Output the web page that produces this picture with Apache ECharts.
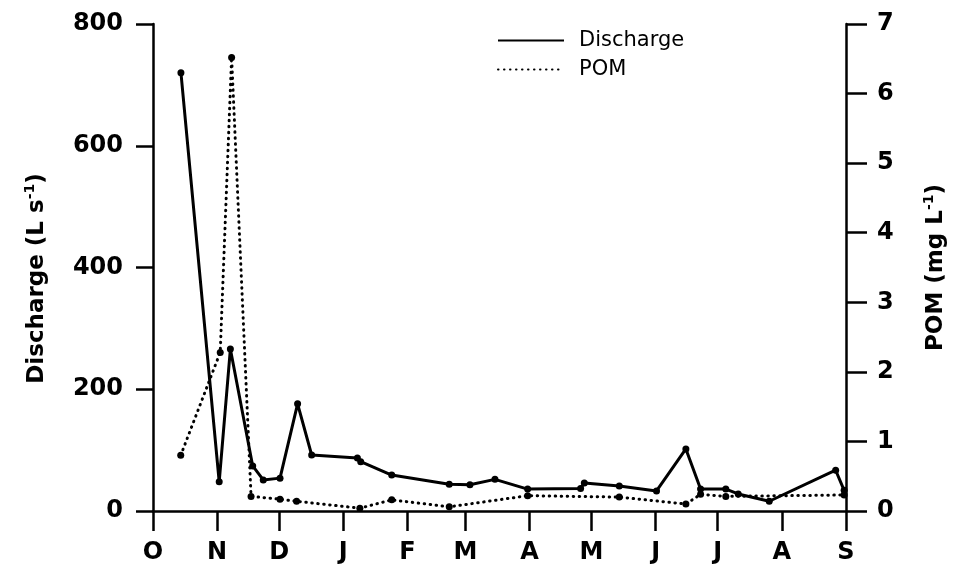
<!DOCTYPE html>
<html>
<head>
<meta charset="utf-8">
<script src="https://cdn.jsdelivr.net/npm/echarts@6/dist/echarts.min.js"></script>
<style>html,body{margin:0;padding:0;background:#fff}#c{width:959px;height:572px}</style>
</head>
<body>
<div id="c"></div>
<script>
// Month ticks: days since 1 October
var monthDays = [0, 31, 61, 92, 123, 151, 182, 212, 243, 273, 304, 335];
var monthLabels = ['O', 'N', 'D', 'J', 'F', 'M', 'A', 'M', 'J', 'J', 'A', 'S'];

// Discharge (L s-1), sampling day (days since 1 Oct)
var dischargeDays = [13.5, 32, 37.4, 48.2, 53.3, 61.4, 69.9, 76.7, 98.8, 100.4, 115.4, 143.2, 153.2, 165.3, 181.1, 206.7, 208.5, 225.4, 243.4, 257.6, 264.7, 276.9, 282.9, 297.9, 330, 334.1];
var dischargeValues = [720, 48, 266, 74, 51, 54, 176, 92, 87, 81, 59, 44, 43, 52, 36, 37, 46, 41, 33, 102, 36, 36, 28, 16, 67, 34];

// POM (mg L-1)
var pomDays = [13.4, 32.5, 38, 47.4, 61.4, 69.4, 100, 115.4, 143.2, 181.1, 225.4, 257.6, 264.7, 276.9, 334.1];
var pomValues = [0.80, 2.28, 6.52, 0.21, 0.17, 0.14, 0.04, 0.16, 0.06, 0.22, 0.20, 0.10, 0.24, 0.21, 0.23];

function pairs(xs, ys) { return xs.map(function (x, i) { return [x, ys[i]]; }); }

var FONT = 'DejaVu Sans';
var chart = echarts.init(document.getElementById('c'), null, { renderer: 'canvas' });
chart.setOption({
  animation: false,
  backgroundColor: '#fff',
  grid: { left: 153, right: 113, top: 24, bottom: 61 },
  legend: {
    orient: 'vertical', left: 497, top: 30, padding: 0,
    itemWidth: 66, itemHeight: 20, itemGap: 8,
    itemStyle: { opacity: 0 },
    textStyle: { fontFamily: FONT, fontSize: 21, color: '#000', padding: [0, 0, 0, 10] },
    data: ['Discharge', 'POM']
  },
  xAxis: {
    type: 'value', min: 0, max: 335,
    splitLine: { show: false },
    axisLine: { lineStyle: { color: '#000', width: 2.5 } },
    axisTick: { customValues: monthDays, length: 20, lineStyle: { color: '#000', width: 2.5 } },
    axisLabel: {
      customValues: monthDays, margin: 30,
      fontFamily: FONT, fontWeight: 'bold', fontSize: 24, color: '#000',
      formatter: function (v) { var i = monthDays.indexOf(v); return i >= 0 ? monthLabels[i] : ''; }
    }
  },
  yAxis: [{
    type: 'value', min: 0, max: 800, interval: 200, position: 'left',
    splitLine: { show: false },
    axisLine: { show: true, lineStyle: { color: '#000', width: 2.5 } },
    axisTick: { show: true, length: 17, lineStyle: { color: '#000', width: 2.5 } },
    axisLabel: { margin: 30, fontFamily: FONT, fontWeight: 'bold', fontSize: 24, color: '#000' },
    name: 'Discharge (L s{sup|-1})', nameLocation: 'middle', nameGap: 102, nameRotate: 90,
    nameTextStyle: {
      fontFamily: FONT, fontWeight: 'bold', fontSize: 23, color: '#000', padding: [0, 22, 0, 0],
      rich: { sup: { fontFamily: FONT, fontWeight: 'bold', fontSize: 14, color: '#000', verticalAlign: 'top', lineHeight: 28 } }
    }
  }, {
    type: 'value', min: 0, max: 7, interval: 1, position: 'right',
    splitLine: { show: false },
    axisLine: { show: true, lineStyle: { color: '#000', width: 2.5 } },
    axisTick: { show: true, length: 21, lineStyle: { color: '#000', width: 2.5 } },
    axisLabel: { margin: 31, fontFamily: FONT, fontWeight: 'bold', fontSize: 24, color: '#000' },
    name: 'POM (mg L{sup|-1})', nameLocation: 'middle', nameGap: 76, nameRotate: 90,
    nameTextStyle: {
      fontFamily: FONT, fontWeight: 'bold', fontSize: 23, color: '#000',
      rich: { sup: { fontFamily: FONT, fontWeight: 'bold', fontSize: 14, color: '#000', verticalAlign: 'top', lineHeight: 28 } }
    }
  }],
  series: [{
    name: 'Discharge', type: 'line', yAxisIndex: 0,
    data: pairs(dischargeDays, dischargeValues),
    symbol: 'circle', symbolSize: 7, showAllSymbol: true,
    itemStyle: { color: '#000' },
    lineStyle: { color: '#000', width: 3 }
  }, {
    name: 'POM', type: 'line', yAxisIndex: 1,
    data: pairs(pomDays, pomValues),
    symbol: 'circle', symbolSize: 7, showAllSymbol: true,
    itemStyle: { color: '#000' },
    lineStyle: { color: '#000', width: 3, type: [0.5, 5.5], cap: 'round' }
  }]
});
</script>
</body>
</html>
